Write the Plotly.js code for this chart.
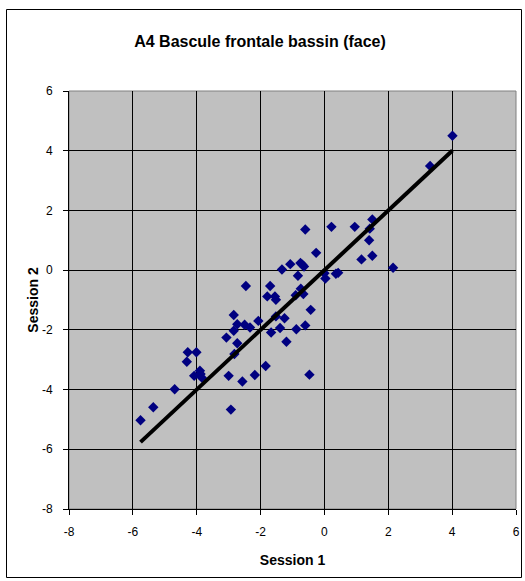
<!DOCTYPE html>
<html>
<head>
<meta charset="utf-8">
<script src="https://cdn.plot.ly/plotly-3.0.1.min.js"></script>
<style>html,body{margin:0;padding:0;background:#fff;}#chart{width:525px;height:581px;}</style>
</head>
<body>
<div id="chart"></div>
<script>
// Session 1 (x) and Session 2 (y) values
const session1 = [4.01, 3.31, 2.15, 1.50, 1.42, 1.40, 1.50, 1.16, 0.95, 0.22, -0.60, -0.26,
  -1.33, -1.07, -0.75, -0.69, -0.64, -0.83, 0.00, 0.03, 0.36, 0.43, -0.74, -0.66, -0.90,
  -1.70, -2.46, -1.79, -1.55, -1.52, -0.43, -1.52, -1.25, -1.39, -0.88, -0.60, -1.67, -1.19,
  -2.84, -2.73, -2.50, -2.33, -2.07, -2.84, -3.07, -2.73, -2.82, -1.84, -0.47, -2.18, -2.57,
  -3.00, -2.93, -4.28, -4.01, -4.31, -4.08, -3.90, -3.88, -3.84, -4.69, -5.36, -5.76];
const session2 = [4.50, 3.49, 0.08, 1.70, 1.39, 1.00, 0.48, 0.36, 1.45, 1.45, 1.36, 0.58,
  0.02, 0.20, 0.24, 0.18, 0.12, -0.19, -0.10, -0.28, -0.12, -0.09, -0.62, -0.80, -0.84,
  -0.53, -0.53, -0.88, -0.88, -0.99, -1.33, -1.55, -1.61, -1.94, -1.98, -1.85, -2.09, -2.40,
  -1.50, -1.81, -1.83, -1.92, -1.70, -2.03, -2.26, -2.45, -2.81, -3.21, -3.50, -3.51, -3.73,
  -3.54, -4.67, -2.75, -2.75, -3.07, -3.54, -3.37, -3.48, -3.60, -3.99, -4.59, -5.03];
// Trend line endpoints
const lineX = [-5.76, 4.01];
const lineY = [-5.76, 4.01];
const xTicks = [-8, -6, -4, -2, 0, 2, 4, 6];
const yTicks = [-8, -6, -4, -2, 0, 2, 4, 6];

const FONT = 'Liberation Sans, Arial, sans-serif';
const L = 69, R = 9, T = 91, B = 72, W = 525, H = 581;
const pw = W - L - R, ph = H - T - B;
const px = v => (v - L) / pw;
const py = v => (H - B - v) / ph;

const traces = [
  {x: session1, y: session2, type: 'scatter', mode: 'markers',
   marker: {symbol: 'diamond', size: 8, color: '#000080', line: {width: 0}},
   hoverinfo: 'x+y'},
  {x: lineX, y: lineY, type: 'scatter', mode: 'lines',
   line: {color: '#000000', width: 4}}
];

const layout = {
  width: W, height: H,
  margin: {l: L, r: R, t: T, b: B},
  paper_bgcolor: '#ffffff',
  plot_bgcolor: '#c0c0c0',
  showlegend: false,
  title: {text: 'A4 Bascule frontale bassin (face)', x: 260 / W, xref: 'container', xanchor: 'center',
    y: 1 - 41 / H, yref: 'container', yanchor: 'middle',
    font: {family: FONT, size: 16, color: '#000', weight: 'bold'}},
  xaxis: {
    range: [-8, 6], tickvals: xTicks, ticktext: xTicks.map(String),
    showgrid: true, gridcolor: '#000000', gridwidth: 1, zeroline: false,
    showline: true, linecolor: '#000000', linewidth: 1,
    ticks: 'outside', ticklen: 5, tickcolor: '#000', tickwidth: 1,
    ticklabelstandoff: 7,
    tickfont: {family: FONT, size: 12, color: '#000'},
    title: {text: 'Session 1', standoff: 16, font: {family: FONT, size: 14, color: '#000', weight: 'bold'}},
    automargin: false, fixedrange: true
  },
  yaxis: {
    range: [-8, 6], tickvals: yTicks, ticktext: yTicks.map(String),
    showgrid: true, gridcolor: '#000000', gridwidth: 1, zeroline: false,
    showline: true, linecolor: '#000000', linewidth: 1,
    ticks: 'outside', ticklen: 5, tickcolor: '#000', tickwidth: 1,
    ticklabelstandoff: 8,
    tickfont: {family: FONT, size: 12, color: '#000'},
    title: {text: 'Session 2', standoff: 0, font: {family: FONT, size: 14, color: '#000', weight: 'bold'}},
    automargin: false, fixedrange: true
  },
  shapes: [
    {type: 'rect', xref: 'paper', yref: 'paper', x0: 0, x1: 1, y0: 0, y1: 1,
     line: {color: '#808080', width: 1}, layer: 'below'},
    {type: 'rect', xref: 'paper', yref: 'paper', x0: px(6.5), x1: px(521.5), y0: py(9.5), y1: py(577.5),
     line: {color: '#000000', width: 1}, fillcolor: 'rgba(0,0,0,0)', layer: 'above'}
  ]
};

Plotly.newPlot('chart', traces, layout, {displayModeBar: false, staticPlot: true});
</script>
</body>
</html>
